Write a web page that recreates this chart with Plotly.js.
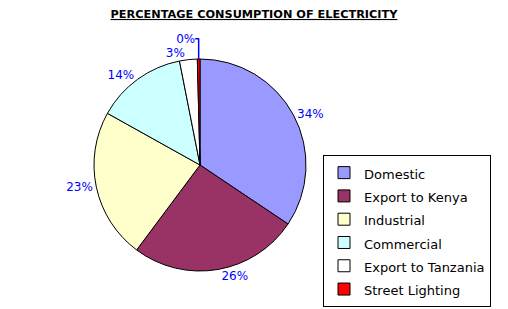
<!DOCTYPE html>
<html>
<head>
<meta charset="utf-8">
<script src="https://cdn.plot.ly/plotly-3.0.1.min.js"></script>
<style>html,body{margin:0;padding:0;background:#fff;}#chart{width:508px;height:309px;}</style>
</head>
<body>
<div id="chart"></div>
<script>
var categories = ["Domestic", "Export to Kenya", "Industrial", "Commercial", "Export to Tanzania", "Street Lighting"];
var shares = [34.4, 25.8, 22.9, 13.8, 2.7, 0.4];
var sliceColors = ["#9999FF", "#993366", "#FFFFCC", "#CCFFFF", "#FFFFFF", "#FF0000"];
var chartTitle = "PERCENTAGE CONSUMPTION OF ELECTRICITY";

var legendLabels = categories.map(function (c) { return '<span style="font-size:13px">' + c + '</span>'; });

var trace = {
  type: "pie",
  labels: legendLabels,
  values: shares,
  sort: false,
  direction: "clockwise",
  rotation: 0,
  marker: { colors: sliceColors, line: { color: "#000000", width: 1 } },
  textposition: "outside",
  texttemplate: "%{percent:.0%}",
  textfont: { family: "DejaVu Sans", size: 12, color: "#0000FF" },
  hoverinfo: "label+percent",
  domain: { x: [94 / 508, 306 / 508], y: [1 - 271 / 309, 1 - 59 / 309] }
};

var layout = {
  width: 508,
  height: 309,
  margin: { l: 0, r: 0, t: 0, b: 0, autoexpand: false },
  paper_bgcolor: "#FFFFFF",
  title: {
    text: "<b><u>" + chartTitle + "</u></b>",
    font: { family: "DejaVu Sans", size: 11.3, color: "#000000" },
    x: 0.5, xanchor: "center", y: 1 - 14 / 309, yanchor: "middle"
  },
  showlegend: true,
  legend: {
    x: 491 / 508, xanchor: "right",
    y: 1 - 155 / 309, yanchor: "top",
    bgcolor: "#FFFFFF",
    bordercolor: "#000000",
    borderwidth: 1,
    font: { family: "DejaVu Sans", size: 15.6, color: "#000000" },
    traceorder: "normal"
  }
};

Plotly.newPlot("chart", [trace], layout, { displayModeBar: false, staticPlot: true });
</script>
</body>
</html>
